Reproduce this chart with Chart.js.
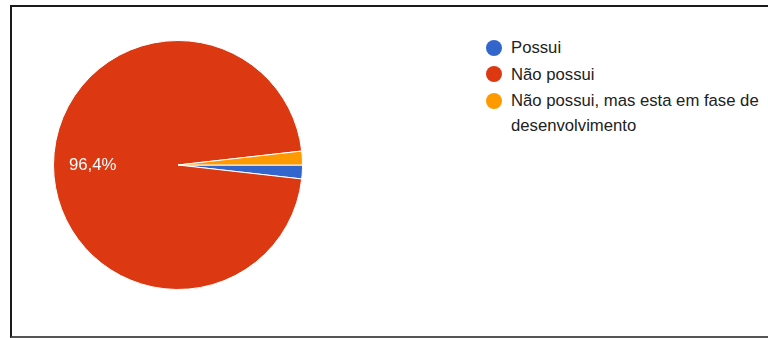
<!DOCTYPE html>
<html>
<head>
<meta charset="utf-8">
<script src="https://cdn.jsdelivr.net/npm/chart.js@4.4.1/dist/chart.umd.min.js"></script>
<style>
  html, body { margin: 0; padding: 0; background: #fff; }
  body { width: 768px; height: 338px; position: relative; overflow: hidden;
         font-family: "Liberation Sans", Arial, Helvetica, sans-serif; }
  #frame { position: absolute; left: 10px; top: 5px; width: 780px; height: 329px;
           border-left: 2px solid #1a1a1a; border-top: 2px solid #1a1a1a;
           border-bottom: 2px solid #555; }
  #pieBox { position: absolute; left: 50px; top: 37px; width: 256px; height: 256px; }
  #legend { position: absolute; left: 486px; top: 35px; width: 280px; }
  .item { position: relative; padding-left: 25px; font-size: 16.7px; line-height: 25px;
          color: #222; margin-bottom: 1.5px; }
  .dot { position: absolute; left: 0; top: 4.5px; width: 16px; height: 16px; border-radius: 50%; }
</style>
</head>
<body>
<div id="frame"></div>
<div id="pieBox"><canvas id="pie"></canvas></div>
<div id="legend"></div>
<script>
// Survey answers (counts of responses)
const categories = ["Possui", "Não possui", "Não possui, mas esta em fase de desenvolvimento"];
const responses = [1, 54, 1];
const colors = ["#3366CC", "#DC3912", "#FF9900"];

const total = responses.reduce((a, b) => a + b, 0);
const pctText = v => (v / total * 100).toFixed(1).replace(".", ",") + "%";

// Percentage labels inside the big slices
const sliceLabels = {
  id: "sliceLabels",
  afterDatasetsDraw(chart) {
    const { ctx } = chart;
    const meta = chart.getDatasetMeta(0);
    meta.data.forEach((arc, i) => {
      const v = responses[i];
      if (v / total < 0.05) return;
      const p = arc.getProps(["x", "y", "startAngle", "endAngle", "outerRadius"], true);
      const mid = (p.startAngle + p.endAngle) / 2;
      const r = p.outerRadius * 0.685;
      ctx.save();
      ctx.fillStyle = "#ffffff";
      ctx.font = '16.8px "Liberation Sans", Arial, sans-serif';
      ctx.textAlign = "center";
      ctx.textBaseline = "middle";
      ctx.fillText(pctText(v), p.x + Math.cos(mid) * r, p.y + Math.sin(mid) * r);
      ctx.restore();
    });
  }
};

new Chart(document.getElementById("pie"), {
  type: "pie",
  data: {
    labels: categories,
    datasets: [{
      data: responses,
      backgroundColor: colors,
      borderColor: "#ffffff",
      borderWidth: 1
    }]
  },
  options: {
    responsive: true,
    maintainAspectRatio: false,
    animation: false,
    rotation: 90,
    layout: { padding: 3 },
    plugins: { legend: { display: false }, tooltip: { enabled: false } }
  },
  plugins: [sliceLabels]
});

// Legend beside the pie
const legend = document.getElementById("legend");
categories.forEach((name, i) => {
  const item = document.createElement("div");
  item.className = "item";
  const dot = document.createElement("span");
  dot.className = "dot";
  dot.style.background = colors[i];
  item.appendChild(dot);
  item.appendChild(document.createTextNode(name));
  legend.appendChild(item);
});
</script>
</body>
</html>
